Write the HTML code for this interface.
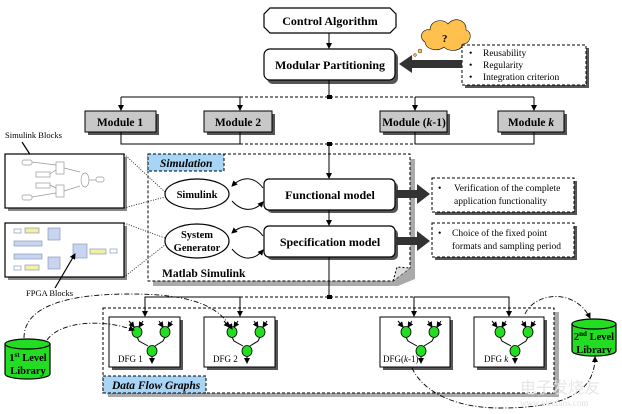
<!DOCTYPE html>
<html><head><meta charset="utf-8"><style>
html,body{margin:0;padding:0;background:#fff;}
svg{display:block;font-family:"Liberation Serif",serif;}
</style></head><body>
<svg width="622" height="414" viewBox="0 0 622 414" xmlns="http://www.w3.org/2000/svg">
<defs>
<marker id="a" markerWidth="6" markerHeight="6" refX="5" refY="3" orient="auto" markerUnits="userSpaceOnUse"><path d="M0,0 L6,3 L0,6 z" fill="#000"/></marker>
<g id="dfg">
<line x1="20" y1="4" x2="25" y2="10" stroke="#000" marker-end="url(#a)"/>
<line x1="34" y1="4" x2="30" y2="10" stroke="#000" marker-end="url(#a)"/>
<line x1="50" y1="4" x2="54" y2="10" stroke="#000" marker-end="url(#a)"/>
<line x1="63" y1="4" x2="59" y2="10" stroke="#000" marker-end="url(#a)"/>
<path d="M28,20 L30,24 L39,29 M56,20 L54,24 L46,29" fill="none" stroke="#000"/>
<line x1="43" y1="39" x2="43" y2="46" stroke="#000" marker-end="url(#a)"/>
<ellipse cx="28" cy="15" rx="5" ry="5.5" fill="#22dd22" stroke="#000" stroke-width="0.8"/>
<ellipse cx="56" cy="15" rx="5" ry="5.5" fill="#22dd22" stroke="#000" stroke-width="0.8"/>
<ellipse cx="43" cy="34" rx="5" ry="5.5" fill="#22dd22" stroke="#000" stroke-width="0.8"/>
</g>
</defs>

<!-- top -->
<path d="M270,8 L390,8 L396,14 L396,27 L390,33 L270,33 L264,27 L264,14 z" fill="#fff" stroke="#000" stroke-width="1.2"/>
<text x="330" y="25" font-size="12" font-weight="bold" text-anchor="middle">Control Algorithm</text>
<line x1="329" y1="33" x2="329" y2="48" stroke="#000" marker-end="url(#a)"/>
<rect x="267" y="52" width="131" height="32" rx="6" fill="#555"/>
<rect x="264" y="49" width="131" height="31" rx="6" fill="#fff" stroke="#000" stroke-width="1.2"/>
<text x="330" y="69" font-size="12" font-weight="bold" text-anchor="middle">Modular Partitioning</text>
<!-- cloud -->
<path d="M425,42 C418,38 422,28 430,30 C430,20 443,18 448,24 C454,16 467,20 466,30 C473,32 471,44 463,44 C461,52 448,52 444,47 C438,52 426,50 425,42 z" fill="#ffc14d" stroke="#000" stroke-width="0.6"/>
<text x="442" y="42" font-size="11" font-weight="bold">?</text>
<circle cx="420" cy="51" r="2" fill="#ffc14d" stroke="#000" stroke-width="0.4"/>
<circle cx="415" cy="55" r="1.4" fill="#ffc14d" stroke="#000" stroke-width="0.4"/>
<circle cx="411" cy="58" r="1" fill="#ffc14d" stroke="#000" stroke-width="0.4"/>
<!-- criteria box -->
<rect x="465" y="48" width="124" height="40" fill="#555"/>
<rect x="462" y="45" width="124" height="40" fill="#fff" stroke="#000" stroke-dasharray="3,2"/>
<text font-size="9.5"><tspan x="469" y="56">•</tspan><tspan x="483" y="56">Reusability</tspan><tspan x="469" y="68">•</tspan><tspan x="483" y="68">Regularity</tspan><tspan x="469" y="80">•</tspan><tspan x="483" y="80">Integration criterion</tspan></text>
<path d="M462,60 L412,60 L412,55 L399,64 L412,73 L412,68 L462,68 z" fill="#333"/>

<!-- modules distribution -->
<line x1="329" y1="80" x2="329" y2="97" stroke="#000"/>
<path d="M121,97 L240,97 M415,97 L534,97" stroke="#000"/>
<line x1="240" y1="97" x2="415" y2="97" stroke="#000" stroke-dasharray="3,2"/>
<rect x="327" y="95" width="5" height="4" fill="#000"/>
<g stroke="#000" fill="none">
<line x1="121" y1="97" x2="121" y2="110" marker-end="url(#a)"/>
<line x1="240" y1="97" x2="240" y2="110" marker-end="url(#a)"/>
<line x1="415" y1="97" x2="415" y2="110" marker-end="url(#a)"/>
<line x1="534" y1="97" x2="534" y2="110" marker-end="url(#a)"/>
</g>
<g font-size="11.5" font-weight="bold" text-anchor="middle">
<rect x="88" y="114" width="71" height="21" fill="#555"/><rect x="85" y="111" width="71" height="21" fill="#c8c8c8" stroke="#000"/><text x="120" y="126">Module 1</text>
<rect x="207" y="114" width="68" height="21" fill="#555"/><rect x="204" y="111" width="68" height="21" fill="#c8c8c8" stroke="#000"/><text x="238" y="126">Module 2</text>
<rect x="383" y="114" width="67" height="21" fill="#555"/><rect x="380" y="111" width="67" height="21" fill="#c8c8c8" stroke="#000"/><text x="414" y="126">Module (<tspan font-style="italic">k</tspan>-1)</text>
<rect x="501" y="114" width="66" height="21" fill="#555"/><rect x="498" y="111" width="66" height="21" fill="#c8c8c8" stroke="#000"/><text x="531" y="126">Module <tspan font-style="italic">k</tspan></text>
</g>
<path d="M121,132 L121,144 L240,144 L240,132 M415,132 L415,144 L534,144 L534,132" fill="none" stroke="#000"/>
<line x1="240" y1="144" x2="415" y2="144" stroke="#000" stroke-dasharray="3,2"/>
<rect x="327" y="142" width="5" height="4" fill="#000"/>

<!-- simulation box -->
<path d="M153,159 L415,159 L415,279 L398,286 L153,286 z" fill="#aaa"/>
<path d="M148,154 L410,154 L410,268 L393,281 L148,281 z" fill="#fff" stroke="#000" stroke-dasharray="3,2"/>
<path d="M393,281 L397,267 L410,268" fill="#ddd" stroke="#000" stroke-dasharray="2,2"/>
<rect x="148" y="154" width="76" height="17" fill="#a8d4f5" stroke="#000" stroke-dasharray="3,2"/>
<text x="160" y="167" font-size="11.5" font-weight="bold" font-style="italic">Simulation</text>
<text x="162" y="277" font-size="11.5" font-weight="bold">Matlab Simulink</text>
<line x1="329" y1="144" x2="329" y2="178" stroke="#000" marker-end="url(#a)"/>
<rect x="267" y="182" width="131" height="31" rx="5" fill="#555"/>
<rect x="264" y="179" width="131" height="31" rx="5" fill="#fff" stroke="#000" stroke-width="1.2"/>
<text x="330" y="199" font-size="12" font-weight="bold" text-anchor="middle">Functional model</text>
<line x1="329" y1="210" x2="329" y2="225" stroke="#000" marker-end="url(#a)"/>
<rect x="267" y="229" width="131" height="31" rx="5" fill="#555"/>
<rect x="264" y="226" width="131" height="31" rx="5" fill="#fff" stroke="#000" stroke-width="1.2"/>
<text x="330" y="246" font-size="12" font-weight="bold" text-anchor="middle">Specification model</text>
<ellipse cx="197" cy="194" rx="32" ry="15" fill="#fff" stroke="#000" stroke-width="1.2"/>
<text x="197" y="198" font-size="10.5" font-weight="bold" text-anchor="middle">Simulink</text>
<ellipse cx="197" cy="241" rx="32" ry="17" fill="#fff" stroke="#000" stroke-width="1.2"/>
<text x="197" y="238" font-size="10.5" font-weight="bold" text-anchor="middle">System</text>
<text x="197" y="251" font-size="10.5" font-weight="bold" text-anchor="middle">Generator</text>
<g fill="none" stroke="#000">
<path d="M263,188 C254,176 242,176 232,186" marker-end="url(#a)"/>
<path d="M232,201 C242,212 254,212 263,202" marker-end="url(#a)"/>
<path d="M263,236 C254,224 242,224 232,233" marker-end="url(#a)"/>
<path d="M232,249 C242,261 254,261 263,250" marker-end="url(#a)"/>
</g>
<path d="M395,190 L417,190 L417,184 L430,194 L417,204 L417,198 L395,198 z" fill="#333"/>
<path d="M395,237 L417,237 L417,231 L430,241 L417,251 L417,245 L395,245 z" fill="#333"/>
<rect x="435" y="181" width="142" height="34" fill="#555"/>
<rect x="432" y="178" width="142" height="34" fill="#fff" stroke="#000" stroke-dasharray="3,2"/>
<text font-size="9.5"><tspan x="438" y="191">•</tspan><tspan x="454" y="191">Verification of the complete</tspan><tspan x="454" y="204">application functionality</tspan></text>
<rect x="435" y="226" width="142" height="34" fill="#555"/>
<rect x="432" y="223" width="142" height="34" fill="#fff" stroke="#000" stroke-dasharray="3,2"/>
<text font-size="9.5"><tspan x="438" y="236">•</tspan><tspan x="452" y="236">Choice of the fixed point</tspan><tspan x="452" y="249">formats and sampling period</tspan></text>

<!-- left images -->
<text x="5" y="138" font-size="8.5">Simulink Blocks</text>
<line x1="22" y1="142" x2="40" y2="170" stroke="#000" stroke-width="1.2" marker-end="url(#a)"/>
<rect x="8" y="157" width="119" height="54" fill="#888"/>
<rect x="5" y="154" width="119" height="54" fill="#fff" stroke="#000" stroke-width="1.2"/>
<g stroke="#999" fill="none" stroke-width="0.7">
<rect x="22" y="160" width="10" height="5" rx="2"/><rect x="36" y="172" width="14" height="5"/><rect x="36" y="183" width="14" height="5"/><rect x="22" y="195" width="10" height="5" rx="2"/>
<rect x="56" y="162" width="8" height="12"/><rect x="56" y="185" width="8" height="12"/><ellipse cx="85" cy="180" rx="4" ry="7"/><rect x="96" y="177" width="8" height="5" rx="2"/>
<path d="M32,162 L56,165 M50,174 L56,170 M50,185 L56,188 M32,197 L56,193 M64,168 L80,172 M64,191 L80,186 M89,180 L96,180"/>
</g>
<rect x="8" y="226" width="119" height="54" fill="#888"/>
<rect x="5" y="223" width="119" height="54" fill="#fff" stroke="#000" stroke-width="1.2"/>
<g stroke="#8899bb" stroke-width="0.7">
<rect x="14" y="229" width="7" height="4" fill="#fff"/><rect x="25" y="228" width="14" height="5" fill="#f5efa0"/>
<rect x="48" y="228" width="12" height="12" fill="#c8d4f0"/><rect x="14" y="241" width="28" height="5" fill="#c8d4f0"/>
<rect x="14" y="254" width="28" height="5" fill="#c8d4f0"/><rect x="48" y="257" width="12" height="12" fill="#c8d4f0"/>
<rect x="14" y="266" width="7" height="4" fill="#fff"/><rect x="25" y="265" width="14" height="5" fill="#f5efa0"/>
<rect x="73" y="244" width="14" height="14" fill="#c8d4f0"/><rect x="90" y="249" width="16" height="5" fill="#f5efa0"/><rect x="110" y="249" width="7" height="4" fill="#fff"/>
</g>
<line x1="55" y1="288" x2="75" y2="254" stroke="#000" stroke-width="1.2" marker-end="url(#a)"/>
<text x="26" y="296" font-size="8.5">FPGA Blocks</text>
<g stroke="#000" stroke-dasharray="1,1.5" stroke-width="0.8" fill="none">
<path d="M124,154 L165,192 M124,208 L165,197 M124,223 L165,238 M124,277 L165,245"/>
</g>

<!-- DFG distribution -->
<line x1="329" y1="257" x2="329" y2="297" stroke="#000"/>
<path d="M145,316 L145,297 L240,297 L240,316 M414,316 L414,297 L509,297 L509,316" fill="none" stroke="#000"/>
<line x1="240" y1="297" x2="414" y2="297" stroke="#000" stroke-dasharray="3,2"/>
<rect x="327" y="295" width="5" height="4" fill="#000"/>
<rect x="108" y="312" width="451" height="85" fill="#aaa"/>
<rect x="103" y="308" width="451" height="85" fill="#fff" stroke="#000" stroke-dasharray="3,2"/>
<rect x="103" y="376" width="103" height="17" fill="#a8d4f5" stroke="#000" stroke-dasharray="3,2"/>
<text x="112" y="389" font-size="11.5" font-weight="bold" font-style="italic">Data Flow Graphs</text>
<g stroke="#000" fill="none">
<line x1="145" y1="297" x2="145" y2="316" marker-end="url(#a)"/>
<line x1="240" y1="297" x2="240" y2="316" marker-end="url(#a)"/>
<line x1="414" y1="297" x2="414" y2="316" marker-end="url(#a)"/>
<line x1="509" y1="297" x2="509" y2="316" marker-end="url(#a)"/>
</g>
<g font-size="9">
<rect x="112" y="320" width="71" height="50" fill="#555"/><rect x="109" y="317" width="71" height="50" fill="#fff" stroke="#000"/><use href="#dfg" x="109" y="317"/><text x="118" y="362">DFG 1</text>
<rect x="207" y="320" width="71" height="50" fill="#555"/><rect x="204" y="317" width="71" height="50" fill="#fff" stroke="#000"/><use href="#dfg" x="204" y="317"/><text x="213" y="362">DFG 2</text>
<rect x="383" y="320" width="70" height="50" fill="#555"/><rect x="380" y="317" width="70" height="50" fill="#fff" stroke="#000"/><use href="#dfg" x="378" y="317"/><text x="383" y="362">DFG(<tspan font-style="italic">k</tspan>-1)</text>
<rect x="477" y="320" width="70" height="50" fill="#555"/><rect x="474" y="317" width="70" height="50" fill="#fff" stroke="#000"/><use href="#dfg" x="472" y="317"/><text x="484" y="362">DFG <tspan font-style="italic">k</tspan></text>
</g>

<!-- libraries -->
<g stroke="#000" stroke-width="1.2">
<path d="M5,344 L5,374 A22.5,5 0 0 0 50,374 L50,344" fill="#22dd22"/>
<ellipse cx="27.5" cy="344" rx="22.5" ry="5" fill="#22dd22"/>
<path d="M572,324 L572,351 A22,5 0 0 0 616,351 L616,324" fill="#22dd22"/>
<ellipse cx="594" cy="324" rx="22" ry="5" fill="#22dd22"/>
</g>
<text x="28" y="361" font-size="10.5" font-weight="bold" text-anchor="middle">1<tspan font-size="7" dy="-4">st</tspan><tspan dy="4"> Level</tspan></text>
<text x="28" y="374" font-size="10.5" font-weight="bold" text-anchor="middle">Library</text>
<text x="594" y="340" font-size="10.5" font-weight="bold" text-anchor="middle">2<tspan font-size="7" dy="-4">nd</tspan><tspan dy="4"> Level</tspan></text>
<text x="594" y="353" font-size="10.5" font-weight="bold" text-anchor="middle">Library</text>
<g fill="none" stroke="#000" stroke-dasharray="5,2,1,2" stroke-width="0.9">
<path d="M24,338 C24,305 70,294 130,294 C190,294 218,305 232,329" marker-end="url(#a)"/>
<path d="M47,340 C60,322 100,318 134,330" marker-end="url(#a)"/>
<path d="M525,314 C535,292 575,288 590,318" marker-end="url(#a)"/>
<path d="M412,368 C425,395 460,408 500,408 C560,408 595,395 595,357" marker-end="url(#a)"/>
</g>
<text x="520" y="393" font-size="16" fill="#e6e6e6" font-family="'Noto Sans CJK SC',sans-serif">电子发烧友</text>
<text x="520" y="406" font-size="9" fill="#e0e0e0">www.elecfans.com</text>
</svg>
</body></html>
